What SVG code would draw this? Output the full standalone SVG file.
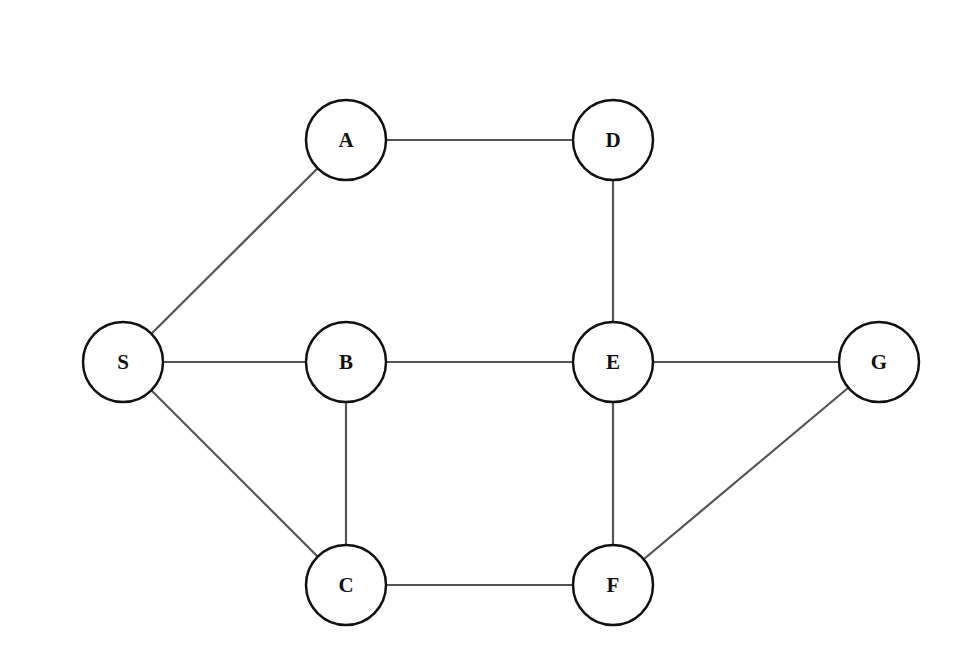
<svg xmlns="http://www.w3.org/2000/svg" width="963" height="660" viewBox="0 0 963 660">
<style>
.n circle{fill:#fff;stroke:#111;stroke-width:2.5}
.n text{font-family:"Liberation Serif",serif;font-weight:bold;font-size:21px;fill:#111;text-anchor:middle;dominant-baseline:central}
#edges line{stroke:#555;stroke-width:2.2}
</style>
<rect width="963" height="660" fill="#fff"/>
<g id="edges">
<line x1="346" y1="140" x2="613" y2="140"/>
<line x1="123" y1="362" x2="346" y2="140"/>
<line x1="613" y1="140" x2="613" y2="362"/>
<line x1="123" y1="362" x2="879" y2="362"/>
<line x1="123" y1="362" x2="346" y2="585"/>
<line x1="346" y1="362" x2="346" y2="585"/>
<line x1="613" y1="362" x2="613" y2="585"/>
<line x1="346" y1="585" x2="613" y2="585"/>
<line x1="613" y1="585" x2="879" y2="362"/>
</g>
<g id="A" class="n"><circle cx="346" cy="140" r="40"/><text x="346" y="140">A</text></g>
<g id="D" class="n"><circle cx="613" cy="140" r="40"/><text x="613" y="140">D</text></g>
<g id="S" class="n"><circle cx="123" cy="362" r="40"/><text x="123" y="362">S</text></g>
<g id="B" class="n"><circle cx="346" cy="362" r="40"/><text x="346" y="362">B</text></g>
<g id="E" class="n"><circle cx="613" cy="362" r="40"/><text x="613" y="362">E</text></g>
<g id="G" class="n"><circle cx="879" cy="362" r="40"/><text x="879" y="362">G</text></g>
<g id="C" class="n"><circle cx="346" cy="585" r="40"/><text x="346" y="585">C</text></g>
<g id="F" class="n"><circle cx="613" cy="585" r="40"/><text x="613" y="585">F</text></g>
</svg>
